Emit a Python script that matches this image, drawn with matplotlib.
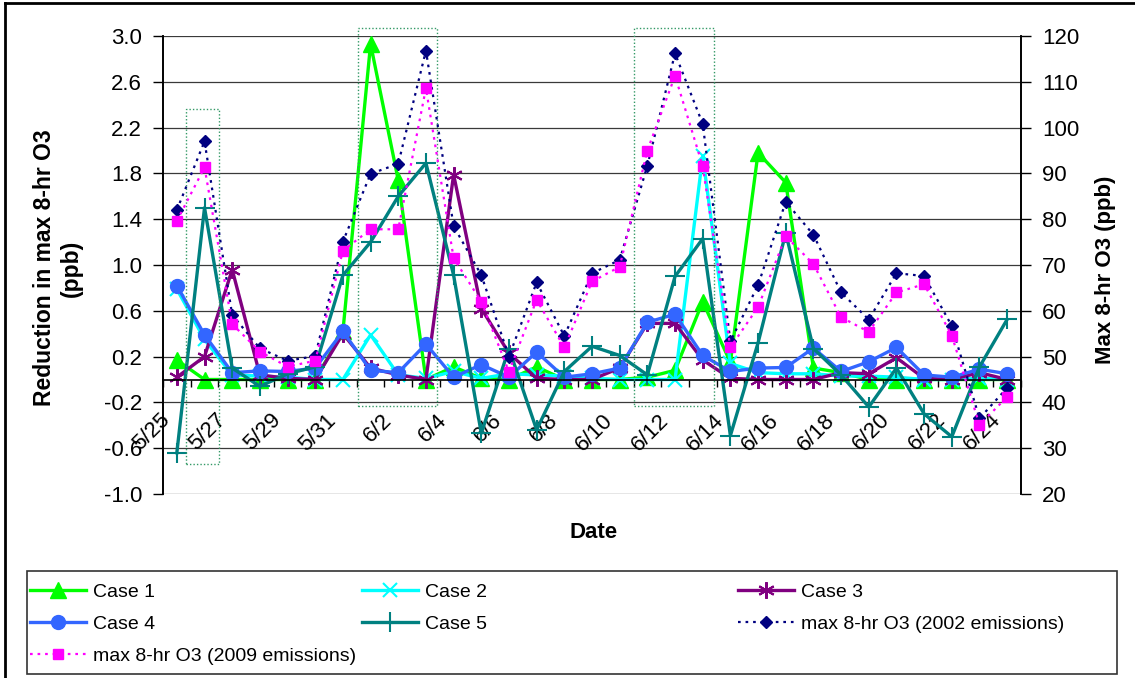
import numpy as np
import matplotlib
matplotlib.use("Agg")
import matplotlib.pyplot as plt
from matplotlib.lines import Line2D
from matplotlib.patches import Rectangle
from matplotlib.transforms import ScaledTranslation

plt.rcParams['font.family'] = ['Liberation Sans', 'DejaVu Sans']

dates = ['5/25', '5/26', '5/27', '5/28', '5/29', '5/30', '5/31', '6/1', '6/2', '6/3',
         '6/4', '6/5', '6/6', '6/7', '6/8', '6/9', '6/10', '6/11', '6/12', '6/13',
         '6/14', '6/15', '6/16', '6/17', '6/18', '6/19', '6/20', '6/21', '6/22', '6/23', '6/24']

case1 = [0.17, 0.0, 0.0, 0.0, 0.0, 0.0, 0.42, 2.93, 1.74, 0.0, 0.11, 0.01, 0.0, 0.11, 0.0,
         0.0, 0.0, 0.02, 0.08, 0.68, 0.15, 1.98, 1.72, 0.10, 0.06, 0.0, 0.0, 0.0, 0.0, 0.0, 0.0]
case2 = [0.79, 0.35, 0.04, 0.03, 0.02, 0.0, 0.0, 0.39, 0.04, 0.01, 0.07, 0.01, 0.05, 0.04, 0.03,
         0.01, 0.0, 0.0, 0.0, 1.95, 0.14, 0.06, 0.05, 0.05, 0.03, 0.03, 0.02, 0.0, 0.0, 0.01, 0.0]
case3 = [0.02, 0.20, 0.96, 0.04, 0.01, 0.0, 0.40, 0.10, 0.04, 0.0, 1.79, 0.62, 0.23, 0.01, 0.0,
         0.0, 0.10, 0.49, 0.49, 0.17, 0.01, 0.0, 0.0, 0.0, 0.06, 0.05, 0.19, 0.01, 0.0, 0.06, 0.0]
case4 = [0.82, 0.39, 0.06, 0.075, 0.07, 0.10, 0.42, 0.08, 0.06, 0.31, 0.02, 0.13, 0.02, 0.24, 0.02,
         0.05, 0.10, 0.50, 0.57, 0.21, 0.07, 0.10, 0.105, 0.275, 0.07, 0.155, 0.28, 0.04, 0.02, 0.09, 0.05]
case5 = [-0.64, 1.50, 0.10, -0.06, 0.05, 0.11, 0.91, 1.20, 1.60, 1.89, 0.91, -0.47, 0.27, -0.44, 0.07,
         0.29, 0.21, 0.04, 0.90, 1.23, -0.49, 0.32, 1.28, 0.27, 0.04, -0.24, 0.10, -0.30, -0.50, 0.11, 0.525]
o3_2002 = [82.0, 97.0, 59.1, 51.8, 49.1, 50.1, 75.1, 89.9, 92.1, 116.8, 78.5, 67.8, 50.0, 66.2, 54.5,
           68.2, 71.1, 91.7, 116.2, 100.8, 53.3, 65.6, 83.8, 76.6, 64.0, 58.1, 68.2, 67.6, 56.7, 36.5, 43.2]
o3_2009 = [79.6, 91.3, 57.1, 51.1, 47.8, 49.1, 73.1, 77.8, 77.8, 108.6, 71.5, 62.0, 46.7, 62.4, 52.0,
           66.4, 69.6, 95.0, 111.3, 91.6, 52.0, 60.8, 76.3, 70.2, 58.6, 55.4, 64.0, 65.8, 54.6, 35.1, 41.2]

left_ticks = [-1.0, -0.6, -0.2, 0.2, 0.6, 1.0, 1.4, 1.8, 2.2, 2.6, 3.0]
right_ticks = [20, 30, 40, 50, 60, 70, 80, 90, 100, 110, 120]
# highlighted episodes (category index span, value span)
boxes = [(0.33, 1.52, -0.74, 2.36), (6.54, 9.40, -0.23, 3.07), (16.52, 19.41, -0.23, 3.07)]

W, H = 1135, 678
fig = plt.figure(figsize=(W / 100, H / 100), dpi=100)
ax = fig.add_axes([163 / W, 1 - 494 / H, (1021 - 163) / W, (494 - 36) / H])
ax2 = ax.twinx()

x = np.arange(len(dates))
FS = 16

styles = [
    ('Case 1', case1, dict(color='#00FF00', marker='^', ms=11)),
    ('Case 2', case2, dict(color='#00FFFF', marker='x', ms=10, mew=1.5)),
    ('Case 3', case3, dict(color='#800080', marker=(6, 2, 0), ms=12, mew=1.5)),
    ('Case 4', case4, dict(color='#3366FF', marker='o', ms=10)),
    ('Case 5', case5, dict(color='#008080', marker='+', ms=14, mew=1.5)),
]
handles = {}
for name, vals, st in styles:
    ln, = ax.plot(x, vals, lw=2.4, label=name, **st)
    handles[name] = ln

l02, = ax2.plot(x, o3_2002, color='#000080', lw=1.6, ls=(0, (1.2, 2.2)), marker='D', ms=6,
                label='max 8-hr O3 (2002 emissions)')
l09, = ax2.plot(x, o3_2009, color='#FF00FF', lw=1.6, ls=(0, (1.2, 2.2)), marker='s', ms=7,
                label='max 8-hr O3 (2009 emissions)')
handles['2002'] = l02
handles['2009'] = l09

ax.set_xlim(-0.5, len(dates) - 0.5)
ax.set_ylim(-1.0, 3.0)
ax2.set_ylim(20, 120)
ax.set_yticks(left_ticks)
ax.set_yticklabels([f'{v:.1f}' for v in left_ticks], fontsize=FS)
ax2.set_yticks(right_ticks)
ax2.set_yticklabels([str(v) for v in right_ticks], fontsize=FS)

for v in left_ticks:
    ax.axhline(v, color='#3a3a3a', lw=0.9, zorder=0.5)

for a in (ax, ax2):
    a.spines['top'].set_visible(False)
    a.spines['bottom'].set_visible(False)
    a.spines['left'].set_linewidth(1.2)
    a.spines['right'].set_linewidth(1.2)
ax.spines['bottom'].set_visible(True)
ax.spines['bottom'].set_position(('data', 0))
ax.spines['bottom'].set_linewidth(1.2)

ax.tick_params(axis='y', direction='out', length=7, width=1, pad=8)
ax2.tick_params(axis='y', direction='out', length=7, width=1, pad=8)

ax.set_xticks(np.arange(-0.5, len(dates), 1.0))
ax.set_xticklabels([''] * len(np.arange(-0.5, len(dates), 1.0)))
ax.tick_params(axis='x', which='major', direction='out', length=5, width=1)
ax.set_xticks(x[::2], minor=True)
ax.set_xticklabels(dates[::2], minor=True, rotation=45, ha='right', va='center',
                   rotation_mode='anchor', fontsize=FS)
ax.tick_params(axis='x', which='minor', length=0, pad=27)
off = ScaledTranslation(-7 / 72, 0, fig.dpi_scale_trans)
for lab in ax.get_xticklabels(minor=True):
    lab.set_transform(lab.get_transform() + off)

for (x0, x1, y0, y1) in boxes:
    ax.add_patch(Rectangle((x0, y0), x1 - x0, y1 - y0, fill=False, ec='#339966', lw=1.0,
                           ls=(0, (1, 1.5)), clip_on=False, zorder=6))

fig.text(58 / W, 1 - 268 / H, 'Reduction in max 8-hr O3\n(ppb)', rotation=90, ha='center',
         va='center', fontsize=16.5, fontweight='bold', multialignment='center')
fig.text(1105 / W, 1 - 270 / H, 'Max 8-hr O3 (ppb)', rotation=90, ha='center', va='center',
         fontsize=16, fontweight='bold')
fig.text(594 / W, 1 - 533 / H, 'Date', ha='center', va='center', fontsize=16, fontweight='bold')

# outer chart frame (left and top edges)
fig.add_artist(Line2D([5 / W, 5 / W], [0, 1 - 3 / H], transform=fig.transFigure, color='black', lw=2))
fig.add_artist(Line2D([5 / W, 1], [1 - 3 / H, 1 - 3 / H], transform=fig.transFigure, color='black', lw=2))

# legend frame
fig.add_artist(Rectangle((27 / W, 1 - 674 / H), (1117 - 27) / W, (674 - 571) / H, fill=False,
                         ec='#333333', lw=1.2, transform=fig.transFigure))
cols = [(['Case 1', 'Case 4', '2009'], 30), (['Case 2', 'Case 5'], 362), (['Case 3', '2002'], 738)]
LFS = 14
for names, px in cols:
    hs = [handles[n] for n in names]
    fig.legend(hs, [h.get_label() for h in hs], loc='upper left',
               bbox_to_anchor=(px / W, 1 - 583 / H), frameon=False, fontsize=LFS,
               handlelength=2.9, handletextpad=0.35, labelspacing=0.75, borderpad=0,
               borderaxespad=0, numpoints=1)

fig.savefig('out.png', dpi=100)
